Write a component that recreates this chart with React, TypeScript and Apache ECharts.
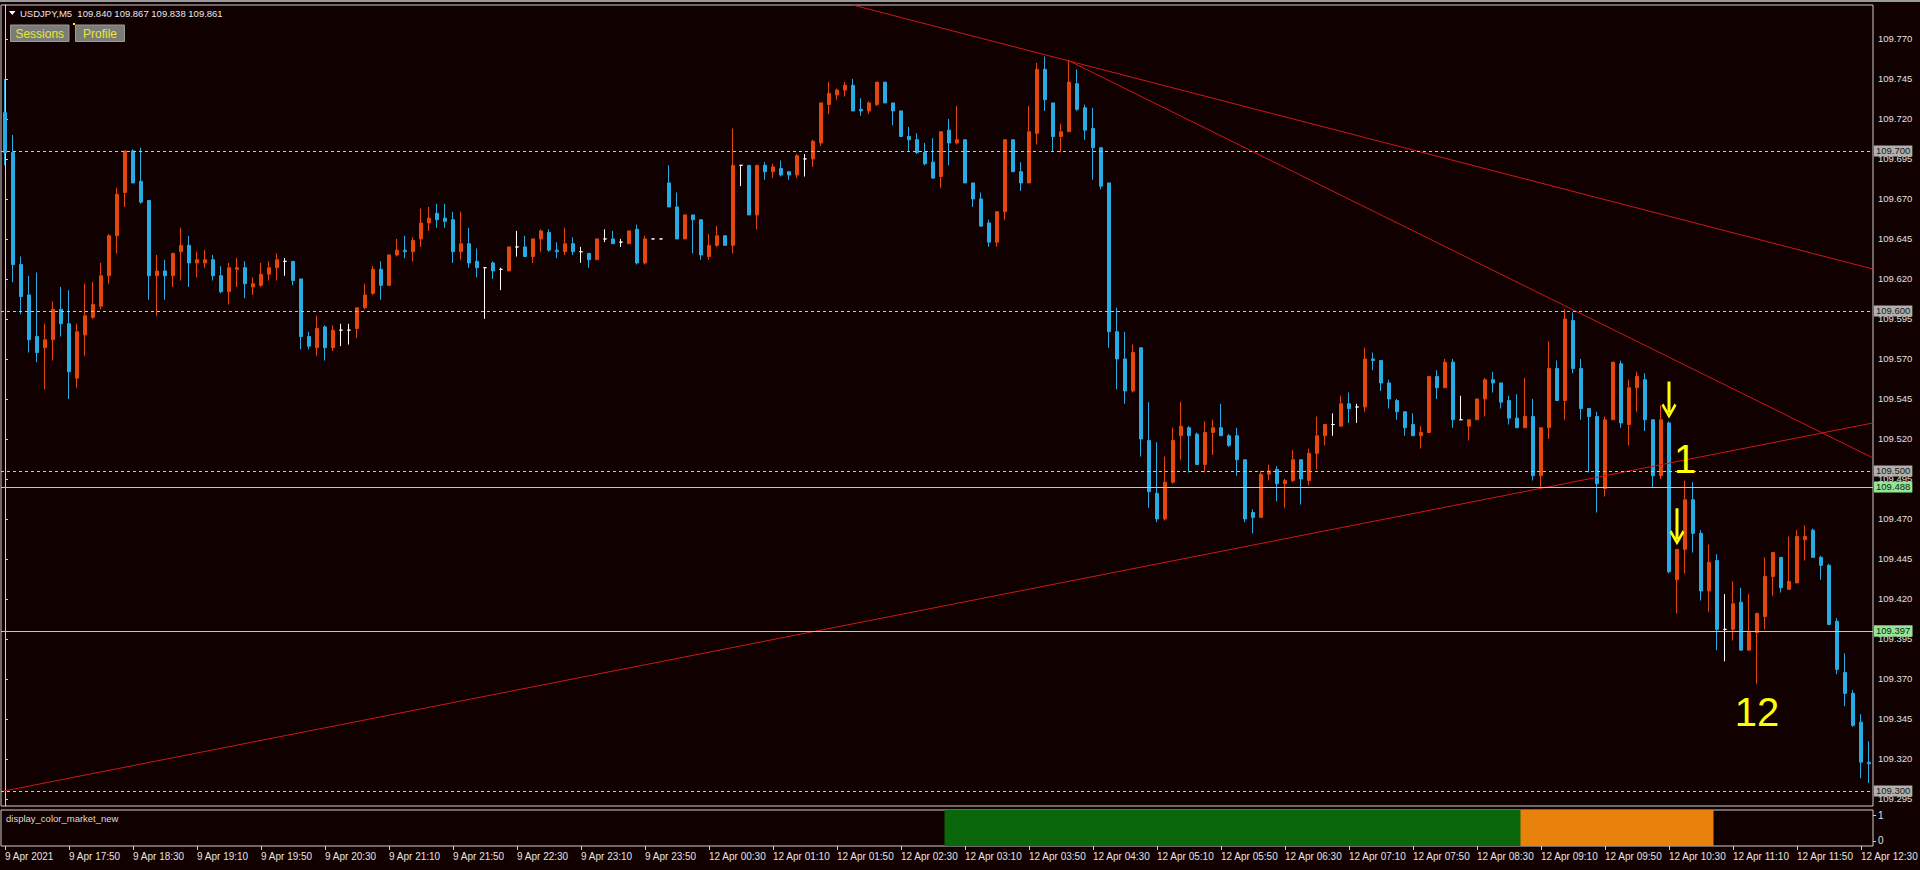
import React, { useEffect, useRef } from "react";
import * as echarts from "echarts";

// ---------- texts ----------
const HEADER_TEXT = "USDJPY,M5  109.840 109.867 109.838 109.861";
const BUTTON_LABELS = ["Sessions", "Profile"];
const INDICATOR_NAME = "display_color_market_new";

// ---------- bar times (5 minute bars) ----------
const SEGMENTS = [
  { day: "9 Apr", from: "17:10", to: "23:55" },
  { day: "12 Apr", from: "00:00", to: "12:35" },
];

// ---------- candles ----------
const OPEN = [
  109.724, 109.699, 109.629, 109.610, 109.584, 109.577, 109.582, 109.601, 109.592, 109.558,
  109.585, 109.596, 109.603, 109.622, 109.647, 109.674, 109.700, 109.681, 109.669, 109.622,
  109.625, 109.622, 109.637, 109.641, 109.630, 109.630, 109.632, 109.622, 109.612, 109.626,
  109.627, 109.615, 109.616, 109.623, 109.627, 109.631, 109.631, 109.620, 109.584, 109.577,
  109.590, 109.577, 109.588, 109.588, 109.589, 109.602, 109.611, 109.626, 109.616, 109.635,
  109.638, 109.637, 109.645, 109.655, 109.661, 109.658, 109.657, 109.637, 109.642, 109.631,
  109.627, 109.630, 109.626, 109.625, 109.640, 109.640, 109.634, 109.645, 109.649, 109.638,
  109.637, 109.642, 109.637, 109.636, 109.632, 109.645, 109.645, 109.643, 109.642, 109.651,
  109.630, 109.645, 109.645, 109.680, 109.665, 109.645, 109.660, 109.657, 109.634, 109.641,
  109.647, 109.641, 109.691, 109.691, 109.660, 109.691, 109.687, 109.689, 109.687, 109.685,
  109.695, 109.695, 109.705, 109.729, 109.735, 109.738, 109.741, 109.726, 109.725, 109.729,
  109.743, 109.730, 109.725, 109.709, 109.707, 109.699, 109.693, 109.684, 109.713, 109.705,
  109.707, 109.680, 109.670, 109.655, 109.643, 109.662, 109.707, 109.687, 109.680, 109.711,
  109.751, 109.730, 109.709, 109.712, 109.742, 109.727, 109.714, 109.702, 109.680, 109.587,
  109.570, 109.550, 109.577, 109.519, 109.486, 109.470, 109.493, 109.522, 109.527, 109.523,
  109.504, 109.524, 109.527, 109.522, 109.522, 109.507, 109.474, 109.471, 109.498, 109.501,
  109.492, 109.494, 109.507, 109.494, 109.511, 109.522, 109.529, 109.528, 109.542, 109.540,
  109.540, 109.570, 109.569, 109.555, 109.544, 109.537, 109.529, 109.522, 109.524, 109.559,
  109.552, 109.568, 109.532, 109.528, 109.532, 109.545, 109.557, 109.555, 109.544, 109.533,
  109.527, 109.534, 109.497, 109.527, 109.564, 109.544, 109.594, 109.564, 109.539, 109.534,
  109.489, 109.532, 109.567, 109.529, 109.552, 109.557, 109.532, 109.497, 109.530, 109.432,
  109.451, 109.482, 109.461, 109.425, 109.444, 109.401, 109.401, 109.418, 109.388, 109.399,
  109.409, 109.434, 109.446, 109.426, 109.430, 109.457, 109.463, 109.446, 109.441, 109.406,
  109.374, 109.361, 109.343, 109.318,
];
const HIGH = [
  109.745, 109.710, 109.634, 109.622, 109.624, 109.592, 109.606, 109.615, 109.613, 109.592,
  109.617, 109.618, 109.630, 109.648, 109.677, 109.700, 109.701, 109.702, 109.669, 109.635,
  109.632, 109.636, 109.652, 109.647, 109.637, 109.638, 109.635, 109.628, 109.630, 109.633,
  109.631, 109.621, 109.630, 109.631, 109.636, 109.633, 109.631, 109.620, 109.587, 109.597,
  109.591, 109.591, 109.592, 109.592, 109.602, 109.617, 109.628, 109.631, 109.635, 109.645,
  109.647, 109.646, 109.664, 109.665, 109.667, 109.667, 109.662, 109.662, 109.652, 109.639,
  109.627, 109.631, 109.627, 109.640, 109.650, 109.647, 109.645, 109.651, 109.651, 109.643,
  109.652, 109.646, 109.640, 109.636, 109.645, 109.651, 109.650, 109.645, 109.650, 109.654,
  109.647, 109.645, 109.645, 109.691, 109.674, 109.660, 109.660, 109.657, 109.648, 109.653,
  109.647, 109.714, 109.691, 109.691, 109.691, 109.693, 109.692, 109.694, 109.687, 109.698,
  109.698, 109.707, 109.730, 109.743, 109.739, 109.743, 109.745, 109.733, 109.731, 109.743,
  109.743, 109.730, 109.725, 109.715, 109.711, 109.705, 109.708, 109.712, 109.720, 109.728,
  109.707, 109.680, 109.674, 109.657, 109.662, 109.707, 109.707, 109.693, 109.728, 109.755,
  109.759, 109.730, 109.717, 109.757, 109.751, 109.729, 109.727, 109.702, 109.680, 109.602,
  109.587, 109.579, 109.577, 109.543, 109.518, 109.509, 109.527, 109.543, 109.528, 109.524,
  109.531, 109.532, 109.542, 109.523, 109.527, 109.507, 109.476, 109.500, 109.504, 109.503,
  109.495, 109.513, 109.507, 109.514, 109.534, 109.529, 109.536, 109.547, 109.549, 109.542,
  109.577, 109.574, 109.569, 109.557, 109.545, 109.537, 109.536, 109.528, 109.559, 109.563,
  109.570, 109.570, 109.547, 109.532, 109.545, 109.558, 109.562, 109.555, 109.547, 109.548,
  109.558, 109.545, 109.527, 109.581, 109.569, 109.601, 109.599, 109.570, 109.539, 109.537,
  109.534, 109.568, 109.569, 109.557, 109.562, 109.561, 109.532, 109.541, 109.531, 109.451,
  109.494, 109.493, 109.463, 109.454, 109.448, 109.423, 109.431, 109.427, 109.423, 109.411,
  109.446, 109.449, 109.446, 109.459, 109.463, 109.466, 109.464, 109.447, 109.442, 109.408,
  109.386, 109.363, 109.348, 109.331,
];
const LOW = [
  109.691, 109.618, 109.598, 109.574, 109.568, 109.551, 109.569, 109.584, 109.545, 109.552,
  109.572, 109.595, 109.601, 109.617, 109.636, 109.665, 109.680, 109.667, 109.607, 109.597,
  109.607, 109.615, 109.619, 109.615, 109.621, 109.627, 109.619, 109.611, 109.604, 109.615,
  109.608, 109.610, 109.615, 109.619, 109.619, 109.622, 109.616, 109.576, 109.576, 109.572,
  109.569, 109.575, 109.578, 109.579, 109.583, 109.601, 109.610, 109.607, 109.616, 109.634,
  109.633, 109.631, 109.640, 109.650, 109.652, 109.652, 109.630, 109.632, 109.627, 109.621,
  109.595, 109.620, 109.613, 109.625, 109.634, 109.634, 109.630, 109.637, 109.637, 109.633,
  109.635, 109.635, 109.630, 109.627, 109.632, 109.643, 109.642, 109.640, 109.642, 109.629,
  109.629, 109.645, 109.645, 109.665, 109.645, 109.645, 109.636, 109.632, 109.632, 109.640,
  109.641, 109.636, 109.678, 109.660, 109.651, 109.682, 109.683, 109.684, 109.682, 109.683,
  109.684, 109.690, 109.703, 109.723, 109.732, 109.734, 109.725, 109.722, 109.723, 109.728,
  109.730, 109.716, 109.709, 109.700, 109.698, 109.691, 109.683, 109.677, 109.691, 109.704,
  109.680, 109.665, 109.653, 109.640, 109.640, 109.657, 109.687, 109.675, 109.680, 109.704,
  109.725, 109.700, 109.699, 109.712, 109.725, 109.707, 109.682, 109.676, 109.577, 109.551,
  109.542, 109.549, 109.509, 109.477, 109.468, 109.469, 109.492, 109.507, 109.499, 109.504,
  109.499, 109.510, 109.522, 109.515, 109.497, 109.468, 109.461, 109.471, 109.494, 109.481,
  109.477, 109.493, 109.479, 109.491, 109.501, 109.516, 109.522, 109.528, 109.530, 109.530,
  109.537, 109.563, 109.550, 109.539, 109.532, 109.522, 109.522, 109.514, 109.524, 109.545,
  109.552, 109.527, 109.532, 109.519, 109.532, 109.534, 109.549, 109.539, 109.529, 109.527,
  109.527, 109.494, 109.489, 109.520, 109.544, 109.532, 109.561, 109.532, 109.499, 109.474,
  109.484, 109.532, 109.527, 109.516, 109.537, 109.525, 109.490, 109.495, 109.436, 109.411,
  109.436, 109.449, 109.419, 109.412, 109.388, 109.381, 109.394, 109.388, 109.388, 109.367,
  109.401, 109.422, 109.424, 109.426, 109.430, 109.444, 109.446, 109.432, 109.404, 109.373,
  109.353, 109.340, 109.308, 109.305,
];
const CLOSE = [
  109.699, 109.629, 109.609, 109.582, 109.574, 109.582, 109.601, 109.592, 109.562, 109.587,
  109.597, 109.604, 109.622, 109.647, 109.673, 109.700, 109.680, 109.668, 109.622, 109.625,
  109.622, 109.636, 109.641, 109.630, 109.632, 109.632, 109.622, 109.612, 109.627, 109.627,
  109.617, 109.617, 109.623, 109.627, 109.632, 109.631, 109.619, 109.584, 109.578, 109.589,
  109.577, 109.588, 109.588, 109.588, 109.602, 109.610, 109.626, 109.616, 109.635, 109.638,
  109.637, 109.644, 109.655, 109.658, 109.657, 109.656, 109.637, 109.642, 109.630, 109.627,
  109.627, 109.625, 109.626, 109.640, 109.640, 109.634, 109.645, 109.650, 109.638, 109.637,
  109.642, 109.637, 109.637, 109.632, 109.645, 109.645, 109.642, 109.643, 109.650, 109.630,
  109.645, 109.645, 109.645, 109.665, 109.645, 109.660, 109.657, 109.635, 109.641, 109.647,
  109.641, 109.691, 109.691, 109.660, 109.691, 109.687, 109.690, 109.685, 109.685, 109.697,
  109.695, 109.706, 109.730, 109.736, 109.738, 109.741, 109.725, 109.725, 109.730, 109.743,
  109.730, 109.725, 109.709, 109.707, 109.699, 109.692, 109.683, 109.712, 109.705, 109.707,
  109.680, 109.670, 109.653, 109.643, 109.662, 109.707, 109.687, 109.680, 109.712, 109.751,
  109.732, 109.709, 109.712, 109.743, 109.726, 109.713, 109.702, 109.678, 109.587, 109.570,
  109.550, 109.574, 109.520, 109.487, 109.470, 109.493, 109.519, 109.528, 109.522, 109.504,
  109.524, 109.527, 109.522, 109.516, 109.507, 109.470, 109.471, 109.498, 109.500, 109.492,
  109.494, 109.507, 109.495, 109.511, 109.522, 109.529, 109.529, 109.542, 109.539, 109.540,
  109.570, 109.569, 109.555, 109.545, 109.537, 109.527, 109.522, 109.524, 109.559, 109.552,
  109.568, 109.532, 109.532, 109.532, 109.545, 109.557, 109.555, 109.543, 109.533, 109.527,
  109.534, 109.497, 109.527, 109.564, 109.544, 109.595, 109.564, 109.539, 109.534, 109.492,
  109.532, 109.568, 109.530, 109.552, 109.559, 109.532, 109.497, 109.532, 109.437, 109.451,
  109.482, 109.461, 109.425, 109.443, 109.401, 109.401, 109.417, 109.388, 109.399, 109.411,
  109.434, 109.449, 109.427, 109.431, 109.459, 109.459, 109.446, 109.441, 109.404, 109.376,
  109.361, 109.341, 109.318, 109.317,
];

// ---------- axis ticks ----------
const TIME_TICK_LABELS = [
  "9 Apr 2021", "9 Apr 17:50", "9 Apr 18:30", "9 Apr 19:10", "9 Apr 19:50", "9 Apr 20:30",
  "9 Apr 21:10", "9 Apr 21:50", "9 Apr 22:30", "9 Apr 23:10", "9 Apr 23:50",
  "12 Apr 00:30", "12 Apr 01:10", "12 Apr 01:50", "12 Apr 02:30", "12 Apr 03:10",
  "12 Apr 03:50", "12 Apr 04:30", "12 Apr 05:10", "12 Apr 05:50", "12 Apr 06:30",
  "12 Apr 07:10", "12 Apr 07:50", "12 Apr 08:30", "12 Apr 09:10", "12 Apr 09:50",
  "12 Apr 10:30", "12 Apr 11:10", "12 Apr 11:50", "12 Apr 12:30",
];
const BARS_PER_TIME_TICK = 8;
const PRICE_TICKS = [
  109.295, 109.32, 109.345, 109.37, 109.395, 109.42, 109.445, 109.47, 109.495, 109.52,
  109.545, 109.57, 109.595, 109.62, 109.645, 109.67, 109.695, 109.72, 109.745, 109.77,
];
const PRICE_MIN = 109.2906;
const PRICE_MAX = 109.7912;
const INDICATOR_TICKS = [0, 1];

// ---------- levels, lines, annotations ----------
const DASHED_LEVELS = [109.7, 109.6, 109.5, 109.4, 109.3];
const GREEN_LEVELS = [109.488, 109.397];
// trend lines in (bar index, price)
const TREND_A = [[105.96, 109.7912], [233.5, 109.6262]];
const TREND_B = [[133, 109.7563], [233.5, 109.5081]];
const TREND_C = [[-0.5, 109.2996], [233.5, 109.53]];
const SESSIONS = [
  { start: "12 Apr 03:00", end: "12 Apr 08:55", color: "#0a670a" },
  { start: "12 Apr 09:00", end: "12 Apr 10:55", color: "#e8820c" },
];
const ARROWS = [
  { time: "12 Apr 10:30", price: 109.5444 },
  { time: "12 Apr 10:35", price: 109.4652 },
];
const NOTES = [
  { text: "1", time: "12 Apr 10:40", price: 109.5075 },
  { text: "12", time: "12 Apr 11:25", price: 109.3494 },
];

// ---------- styles ----------
const BG = "#100000";
const UP = "#e2470f";
const DOWN = "#28aae2";
const DOJI = "#ffffff";
const AXIS_TEXT = "#e2e2e2";
const FRAME = "#cfcfcf";
const YELLOW = "#ffff00";
const FONT = '"Liberation Sans", Arial, sans-serif';
const ARROW_PATH =
  "path://M6,0 L9,0 L9,31 L6,31 Z M0,24 L2,22 L7.5,32 L13,22 L15,24 L7.5,37 Z";

function buildTimes(): string[] {
  const out: string[] = [];
  const toMin = (s: string) => {
    const [h, m] = s.split(":").map(Number);
    return h * 60 + m;
  };
  const pad = (n: number) => String(n).padStart(2, "0");
  for (const seg of SEGMENTS) {
    for (let t = toMin(seg.from); t <= toMin(seg.to); t += 5) {
      out.push(`${seg.day} ${pad(Math.floor(t / 60))}:${pad(t % 60)}`);
    }
  }
  return out;
}

const TIMES = buildTimes();

export default function App() {
  const ref = useRef<HTMLDivElement>(null);

  useEffect(() => {
    if (!ref.current) return;
    const chart = echarts.init(ref.current, null, { renderer: "svg" });
    const N = TIMES.length;

    const candleData = TIMES.map((_, i) => {
      const v = [OPEN[i], CLOSE[i], LOW[i], HIGH[i]];
      if (OPEN[i] === CLOSE[i]) {
        return {
          value: v,
          itemStyle: { color: DOJI, color0: DOJI, borderColor: DOJI, borderColor0: DOJI },
        };
      }
      return v;
    });

    const sessionSeries = SESSIONS.map((s) => {
      const a = TIMES.indexOf(s.start);
      const b = TIMES.indexOf(s.end);
      return {
        type: "bar",
        xAxisIndex: 2,
        yAxisIndex: 1,
        silent: true,
        barWidth: 9,
        barGap: "-100%",
        itemStyle: { color: s.color },
        data: TIMES.map((_, i) => (i >= a && i <= b ? 1 : "-")),
      };
    });

    const tickShown = (index: number) => index % BARS_PER_TIME_TICK === 0;

    const levelItems = (levels: number[], bg: string) =>
      levels.map((v) => ({
        yAxis: v,
        label: {
          show: true,
          position: "end",
          distance: 1,
          formatter: v.toFixed(3),
          backgroundColor: bg,
          color: "#1a1a1a",
          fontSize: 9.5,
          fontFamily: FONT,
          padding: [1, 2, 0, 2],
        },
      }));

    const trend = (data: number[][]) => ({
      type: "line",
      xAxisIndex: 1,
      yAxisIndex: 0,
      data,
      symbol: "none",
      silent: true,
      z: 4,
      lineStyle: { color: "#cc1818", width: 1 },
    });

    const option: any = {
      animation: false,
      backgroundColor: BG,
      textStyle: { fontFamily: FONT },
      grid: [
        {
          left: 1, right: 47, top: 5, height: 801,
          show: true, borderColor: FRAME, borderWidth: 1, outerBoundsMode: "none",
        },
        {
          left: 1, right: 47, top: 810, height: 36,
          show: true, borderColor: FRAME, borderWidth: 1, outerBoundsMode: "none",
        },
      ],
      xAxis: [
        {
          type: "category", gridIndex: 0, data: TIMES, boundaryGap: true,
          axisLine: { show: false }, axisTick: { show: false },
          axisLabel: { show: false }, splitLine: { show: false },
        },
        { type: "value", gridIndex: 0, min: -0.5, max: N - 0.5, show: false },
        {
          type: "category", gridIndex: 1, data: TIMES, boundaryGap: true,
          axisLine: { show: false },
          axisTick: {
            show: true, alignWithLabel: true, interval: tickShown, length: 4,
            lineStyle: { color: FRAME },
          },
          axisLabel: {
            interval: tickShown,
            formatter: (_v: string, idx: number) => TIME_TICK_LABELS[idx / BARS_PER_TIME_TICK] || "",
            color: AXIS_TEXT, fontSize: 10, fontFamily: FONT, align: "left", margin: 5,
          },
          splitLine: { show: false },
        },
      ],
      yAxis: [
        {
          type: "value", gridIndex: 0, position: "right", min: PRICE_MIN, max: PRICE_MAX,
          axisLine: { show: true, lineStyle: { color: FRAME } },
          axisTick: { show: true, length: 3, customValues: PRICE_TICKS, lineStyle: { color: FRAME } },
          axisLabel: {
            customValues: PRICE_TICKS, formatter: (v: number) => v.toFixed(3),
            color: AXIS_TEXT, fontSize: 9.5, fontFamily: FONT, margin: 5,
          },
          splitLine: { show: false },
        },
        { type: "value", gridIndex: 1, min: 0, max: 1, show: false },
        {
          type: "value", gridIndex: 1, position: "right", min: -0.2, max: 1.2,
          axisLine: { show: false },
          axisTick: { show: true, length: 3, customValues: INDICATOR_TICKS, lineStyle: { color: FRAME } },
          axisLabel: {
            customValues: INDICATOR_TICKS, color: AXIS_TEXT, fontSize: 10, fontFamily: FONT, margin: 5,
          },
          splitLine: { show: false },
        },
      ],
      series: [
        {
          type: "line", xAxisIndex: 0, yAxisIndex: 0, data: [], z: 1, silent: true,
          markLine: {
            silent: true, symbol: ["none", "none"],
            lineStyle: { color: "#c9c9c9", type: [3, 3], width: 1 },
            data: levelItems(DASHED_LEVELS, "#b0b0ac"),
          },
        },
        {
          type: "candlestick", xAxisIndex: 0, yAxisIndex: 0, data: candleData, z: 2,
          barWidth: 4,
          itemStyle: { color: UP, color0: DOWN, borderColor: UP, borderColor0: DOWN, borderWidth: 1 },
          markPoint: {
            silent: true,
            data: [
              ...ARROWS.map((a) => ({
                coord: [a.time, a.price], symbol: ARROW_PATH, symbolSize: [15, 37],
                itemStyle: { color: YELLOW }, label: { show: false },
              })),
              ...NOTES.map((n) => ({
                coord: [n.time, n.price], symbol: "rect", symbolSize: 1,
                itemStyle: { color: "rgba(0,0,0,0)" },
                label: {
                  show: true, position: "inside", formatter: n.text,
                  color: YELLOW, fontSize: 40, fontFamily: FONT,
                },
              })),
            ],
          },
        },
        {
          type: "line", xAxisIndex: 0, yAxisIndex: 0, data: [], z: 3, silent: true,
          markLine: {
            silent: true, symbol: ["none", "none"],
            lineStyle: { color: "#9be39b", type: "solid", width: 1 },
            data: levelItems(GREEN_LEVELS, "#92e892"),
          },
        },
        trend(TREND_A),
        trend(TREND_B),
        trend(TREND_C),
        ...sessionSeries,
      ],
      graphic: [
        { type: "rect", shape: { x: 0, y: 0, width: 1920, height: 2 }, style: { fill: "#9a9a9a" } },
        { type: "polygon", shape: { points: [[9, 11], [15.5, 11], [12.25, 15]] }, style: { fill: "#ffffff" } },
        {
          type: "text", x: 20, y: 13,
          style: { text: HEADER_TEXT, fill: "#e8e8e8", font: `9.5px ${FONT}`, verticalAlign: "middle" },
        },
        {
          type: "rect", shape: { x: 10.5, y: 25, width: 58.5, height: 16.5 },
          style: { fill: "#7c7c76", stroke: "#9c9c94", lineWidth: 1 },
        },
        {
          type: "text", x: 39.75, y: 33.5,
          style: { text: BUTTON_LABELS[0], fill: "#e6e63c", font: `12px ${FONT}`, align: "center", verticalAlign: "middle" },
        },
        {
          type: "rect", shape: { x: 75.5, y: 25, width: 49, height: 16.5 },
          style: { fill: "#7c7c76", stroke: "#9c9c94", lineWidth: 1 },
        },
        {
          type: "text", x: 100, y: 33.5,
          style: { text: BUTTON_LABELS[1], fill: "#e6e63c", font: `12px ${FONT}`, align: "center", verticalAlign: "middle" },
        },
        { type: "rect", shape: { x: 73, y: 23, width: 2, height: 2 }, style: { fill: YELLOW } },
        {
          type: "text", x: 6, y: 818,
          style: { text: INDICATOR_NAME, fill: "#dcdcdc", font: `9.5px ${FONT}`, verticalAlign: "middle" },
        },
      ],
    };

    chart.setOption(option);
    return () => chart.dispose();
  }, []);

  return (
    <div
      ref={ref}
      style={{ position: "absolute", left: 0, top: 0, width: 1920, height: 870 }}
    />
  );
}
